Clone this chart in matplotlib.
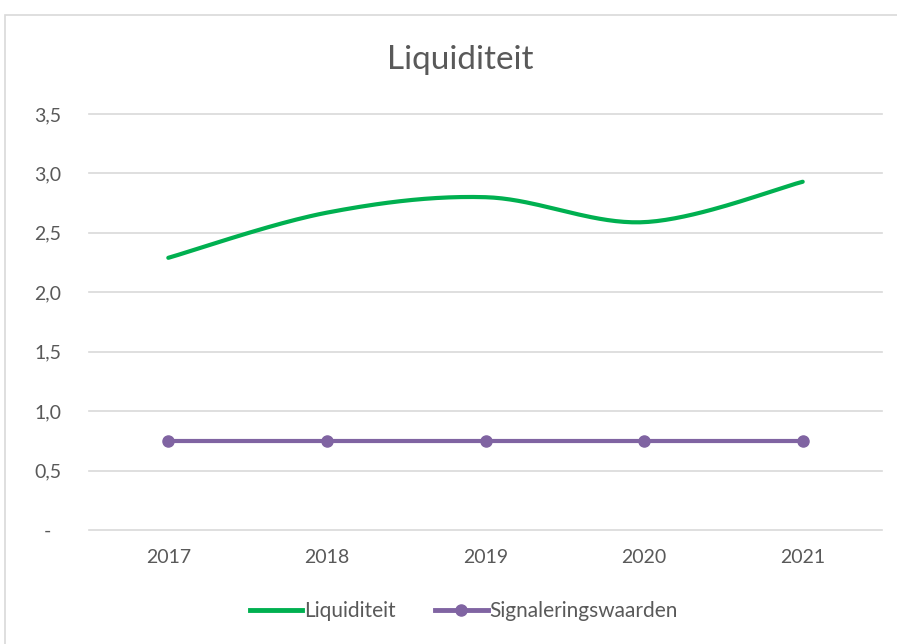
import numpy as np
import matplotlib
matplotlib.use("Agg")
import matplotlib.pyplot as plt
from matplotlib.patches import Rectangle
from matplotlib.lines import Line2D

years = ["2017", "2018", "2019", "2020", "2021"]
liquiditeit = [2.29, 2.67, 2.80, 2.59, 2.93]
signalering = [0.75, 0.75, 0.75, 0.75, 0.75]
yticks = [0.0, 0.5, 1.0, 1.5, 2.0, 2.5, 3.0, 3.5]
ytick_labels = ["-  ", "0,5", "1,0", "1,5", "2,0", "2,5", "3,0", "3,5"]

plt.rcParams['font.family'] = ['Lato', 'DejaVu Sans']

def smooth(xs, ys, n=40):
    # Excel-style smoothing: Catmull-Rom based cubic Bezier through the points
    xs = np.asarray(xs, float); ys = np.asarray(ys, float)
    px = np.concatenate([[xs[0]], xs, [xs[-1]]])
    py = np.concatenate([[ys[0]], ys, [ys[-1]]])
    outx, outy = [], []
    for i in range(1, len(px) - 2):
        p0 = np.array([px[i], py[i]]); p3 = np.array([px[i+1], py[i+1]])
        c1 = p0 + (np.array([px[i+1], py[i+1]]) - np.array([px[i-1], py[i-1]])) / 6
        c2 = p3 - (np.array([px[i+2], py[i+2]]) - np.array([px[i], py[i]])) / 6
        t = np.linspace(0, 1, n)[:, None]
        b = (1-t)**3*p0 + 3*(1-t)**2*t*c1 + 3*(1-t)*t**2*c2 + t**3*p3
        outx.extend(b[:, 0]); outy.extend(b[:, 1])
    return np.array(outx), np.array(outy)

fig = plt.figure(figsize=(8.97, 6.44), dpi=100)
fig.patch.set_facecolor("white")
fig.patches.append(Rectangle((5/897, -0.05), 1.1, 1 - 15/644 + 0.05,
                             transform=fig.transFigure, fill=False,
                             edgecolor="#D9D9D9", linewidth=1.2))

ax = fig.add_axes([89/897, 1 - 530/644, (882 - 89)/897, (530 - 114)/644])
x = np.arange(len(years))
sx, sy = smooth(x, liquiditeit)
ax.plot(sx, sy, color="#00B050", linewidth=3, solid_capstyle="round", zorder=3)
ax.plot(x, signalering, color="#8064A2", linewidth=3, marker="o",
        markersize=8, zorder=3)

ax.set_xlim(-0.5, len(years) - 0.5)
ax.set_ylim(0, 3.5)
ax.set_yticks(yticks)
ax.set_yticklabels(ytick_labels)
ax.set_xticks(x)
ax.set_xticklabels(years)
for yv in yticks:
    ax.axhline(yv, color="#D9D9D9", linewidth=1.2, zorder=1, clip_on=False)
for s in ax.spines.values():
    s.set_visible(False)
ax.tick_params(axis="both", length=0, labelsize=14, colors="#595959")
ax.tick_params(axis="y", pad=20)
ax.tick_params(axis="x", pad=14)

fig.text(460/897, 1 - 60/644, "Liquiditeit", ha="center", va="center",
         fontsize=24, color="#595959")

handles = [Line2D([], [], color="#00B050", linewidth=3.5),
           Line2D([], [], color="#8064A2", linewidth=3.5, marker="o", markersize=8)]
fig.legend(handles, ["Liquiditeit", "Signaleringswaarden"], loc="center",
           bbox_to_anchor=(464/897, 1 - 611/644), ncol=2, frameon=False,
           fontsize=15, labelcolor="#595959", handlelength=2.5,
           handletextpad=0.1, columnspacing=1.9)

fig.savefig("out.png", dpi=100)
